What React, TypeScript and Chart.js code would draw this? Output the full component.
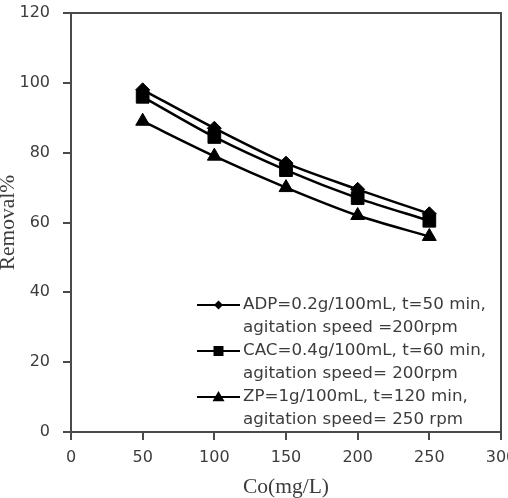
import React, { useEffect, useRef } from "react";
import { Chart, registerables } from "chart.js";

Chart.register(...registerables);

const concentrations = [50, 100, 150, 200, 250];
const adpRemoval = [98, 87, 77, 69.5, 62.5];
const cacRemoval = [96, 84.5, 75, 67, 60.5];
const zpRemoval = [89, 79, 70, 62, 56];
const legendLines = [
  ["ADP=0.2g/100mL, t=50 min,", "agitation speed =200rpm"],
  ["CAC=0.4g/100mL, t=60 min,", "agitation speed= 200rpm"],
  ["ZP=1g/100mL, t=120 min,", "agitation speed= 250 rpm"],
];
const markerStyles = ["rectRot", "rect", "triangle"];
const markerRadii = [7, 9, 8];
const legendMarkerSizes = [4.5, 5, 6];

const AXIS_COLOR = "#4a4a4a";
const TEXT_COLOR = "#3c3c3c";
const SANS = "'DejaVu Sans', sans-serif";
const SERIF = "'Liberation Serif', 'DejaVu Serif', serif";

const frameAndLegend = {
  id: "frameAndLegend",
  afterDraw(chart: any) {
    const { ctx, chartArea } = chart;
    ctx.save();
    ctx.strokeStyle = AXIS_COLOR;
    ctx.lineWidth = 2;
    ctx.beginPath();
    ctx.moveTo(chartArea.left, chartArea.top);
    ctx.lineTo(chartArea.right, chartArea.top);
    ctx.lineTo(chartArea.right, chartArea.bottom);
    ctx.stroke();

    // legend
    const lineStartX = chartArea.left + 126;
    const lineEndX = lineStartX + 43;
    const textX = lineEndX + 3;
    const firstY = 305;
    const lineH = 23;
    ctx.font = `16.7px ${SANS}`;
    ctx.textBaseline = "middle";
    legendLines.forEach((lines, i) => {
      const y = firstY + i * 2 * lineH;
      ctx.strokeStyle = "#000";
      ctx.lineWidth = 2;
      ctx.beginPath();
      ctx.moveTo(lineStartX, y);
      ctx.lineTo(lineEndX, y);
      ctx.stroke();
      ctx.fillStyle = "#000";
      const cx = (lineStartX + lineEndX) / 2;
      const r = legendMarkerSizes[i];
      ctx.beginPath();
      if (markerStyles[i] === "rectRot") {
        ctx.moveTo(cx, y - r);
        ctx.lineTo(cx + r, y);
        ctx.lineTo(cx, y + r);
        ctx.lineTo(cx - r, y);
      } else if (markerStyles[i] === "rect") {
        ctx.rect(cx - r, y - r, 2 * r, 2 * r);
      } else {
        ctx.moveTo(cx, y - r);
        ctx.lineTo(cx + r, y + r * 0.7);
        ctx.lineTo(cx - r, y + r * 0.7);
      }
      ctx.closePath();
      ctx.fill();
      ctx.fillStyle = TEXT_COLOR;
      ctx.textAlign = "left";
      lines.forEach((t, j) => ctx.fillText(t, textX, y + j * lineH));
    });
    ctx.restore();
  },
};

export default function App() {
  const ref = useRef<HTMLCanvasElement>(null);
  useEffect(() => {
    if (!ref.current) return;
    const series = [adpRemoval, cacRemoval, zpRemoval];
    const chart = new Chart(ref.current, {
      type: "line",
      data: {
        datasets: series.map((vals, i) => ({
          label: legendLines[i].join(" "),
          data: concentrations.map((x, k) => ({ x, y: vals[k] })),
          borderColor: "#000",
          backgroundColor: "#000",
          borderWidth: 2.5,
          pointStyle: markerStyles[i] as any,
          pointRadius: markerRadii[i],
          pointBorderWidth: 1,
          tension: 0.3,
          fill: false,
        })),
      },
      options: {
        animation: false,
        responsive: false,
        devicePixelRatio: 1,
        layout: { autoPadding: false, padding: { top: 13, right: 7, left: 0, bottom: 0 } },
        plugins: { legend: { display: false }, tooltip: { enabled: false } },
        scales: {
          x: {
            type: "linear",
            min: 0,
            max: 300,
            ticks: { stepSize: 50, color: TEXT_COLOR, font: { family: SANS, size: 16 }, padding: 8 },
            grid: { drawOnChartArea: false, drawTicks: true, tickLength: 8, color: AXIS_COLOR, lineWidth: 2 },
            border: { display: true, color: AXIS_COLOR, width: 2 },
            title: { display: true, text: "Co(mg/L)", color: TEXT_COLOR, font: { family: SERIF, size: 21.5, lineHeight: 1.0 }, padding: { top: 0, bottom: 0 } },
            afterFit(scale: any) {
              scale.height = 66;
              scale.paddingLeft = 0;
              scale.paddingRight = 0;
            },
          },
          y: {
            min: 0,
            max: 120,
            ticks: { stepSize: 20, color: TEXT_COLOR, font: { family: SANS, size: 16 }, padding: 13 },
            grid: { drawOnChartArea: false, drawTicks: true, tickLength: 8, color: AXIS_COLOR, lineWidth: 2 },
            border: { display: true, color: AXIS_COLOR, width: 2 },
            title: { display: true, text: "Removal%", color: TEXT_COLOR, font: { family: SERIF, size: 21.5, lineHeight: 0.75 }, padding: 0 },
            afterFit(scale: any) {
              scale.width = 71;
              scale.paddingTop = 0;
              scale.paddingBottom = 0;
            },
          },
        },
      },
      plugins: [frameAndLegend],
    });
    return () => chart.destroy();
  }, []);
  return (
    <div style={{ position: "fixed", left: 0, top: 0, width: 508, height: 498, background: "#fff" }}>
      <canvas ref={ref} width={508} height={498} style={{ display: "block" }} />
    </div>
  );
}
